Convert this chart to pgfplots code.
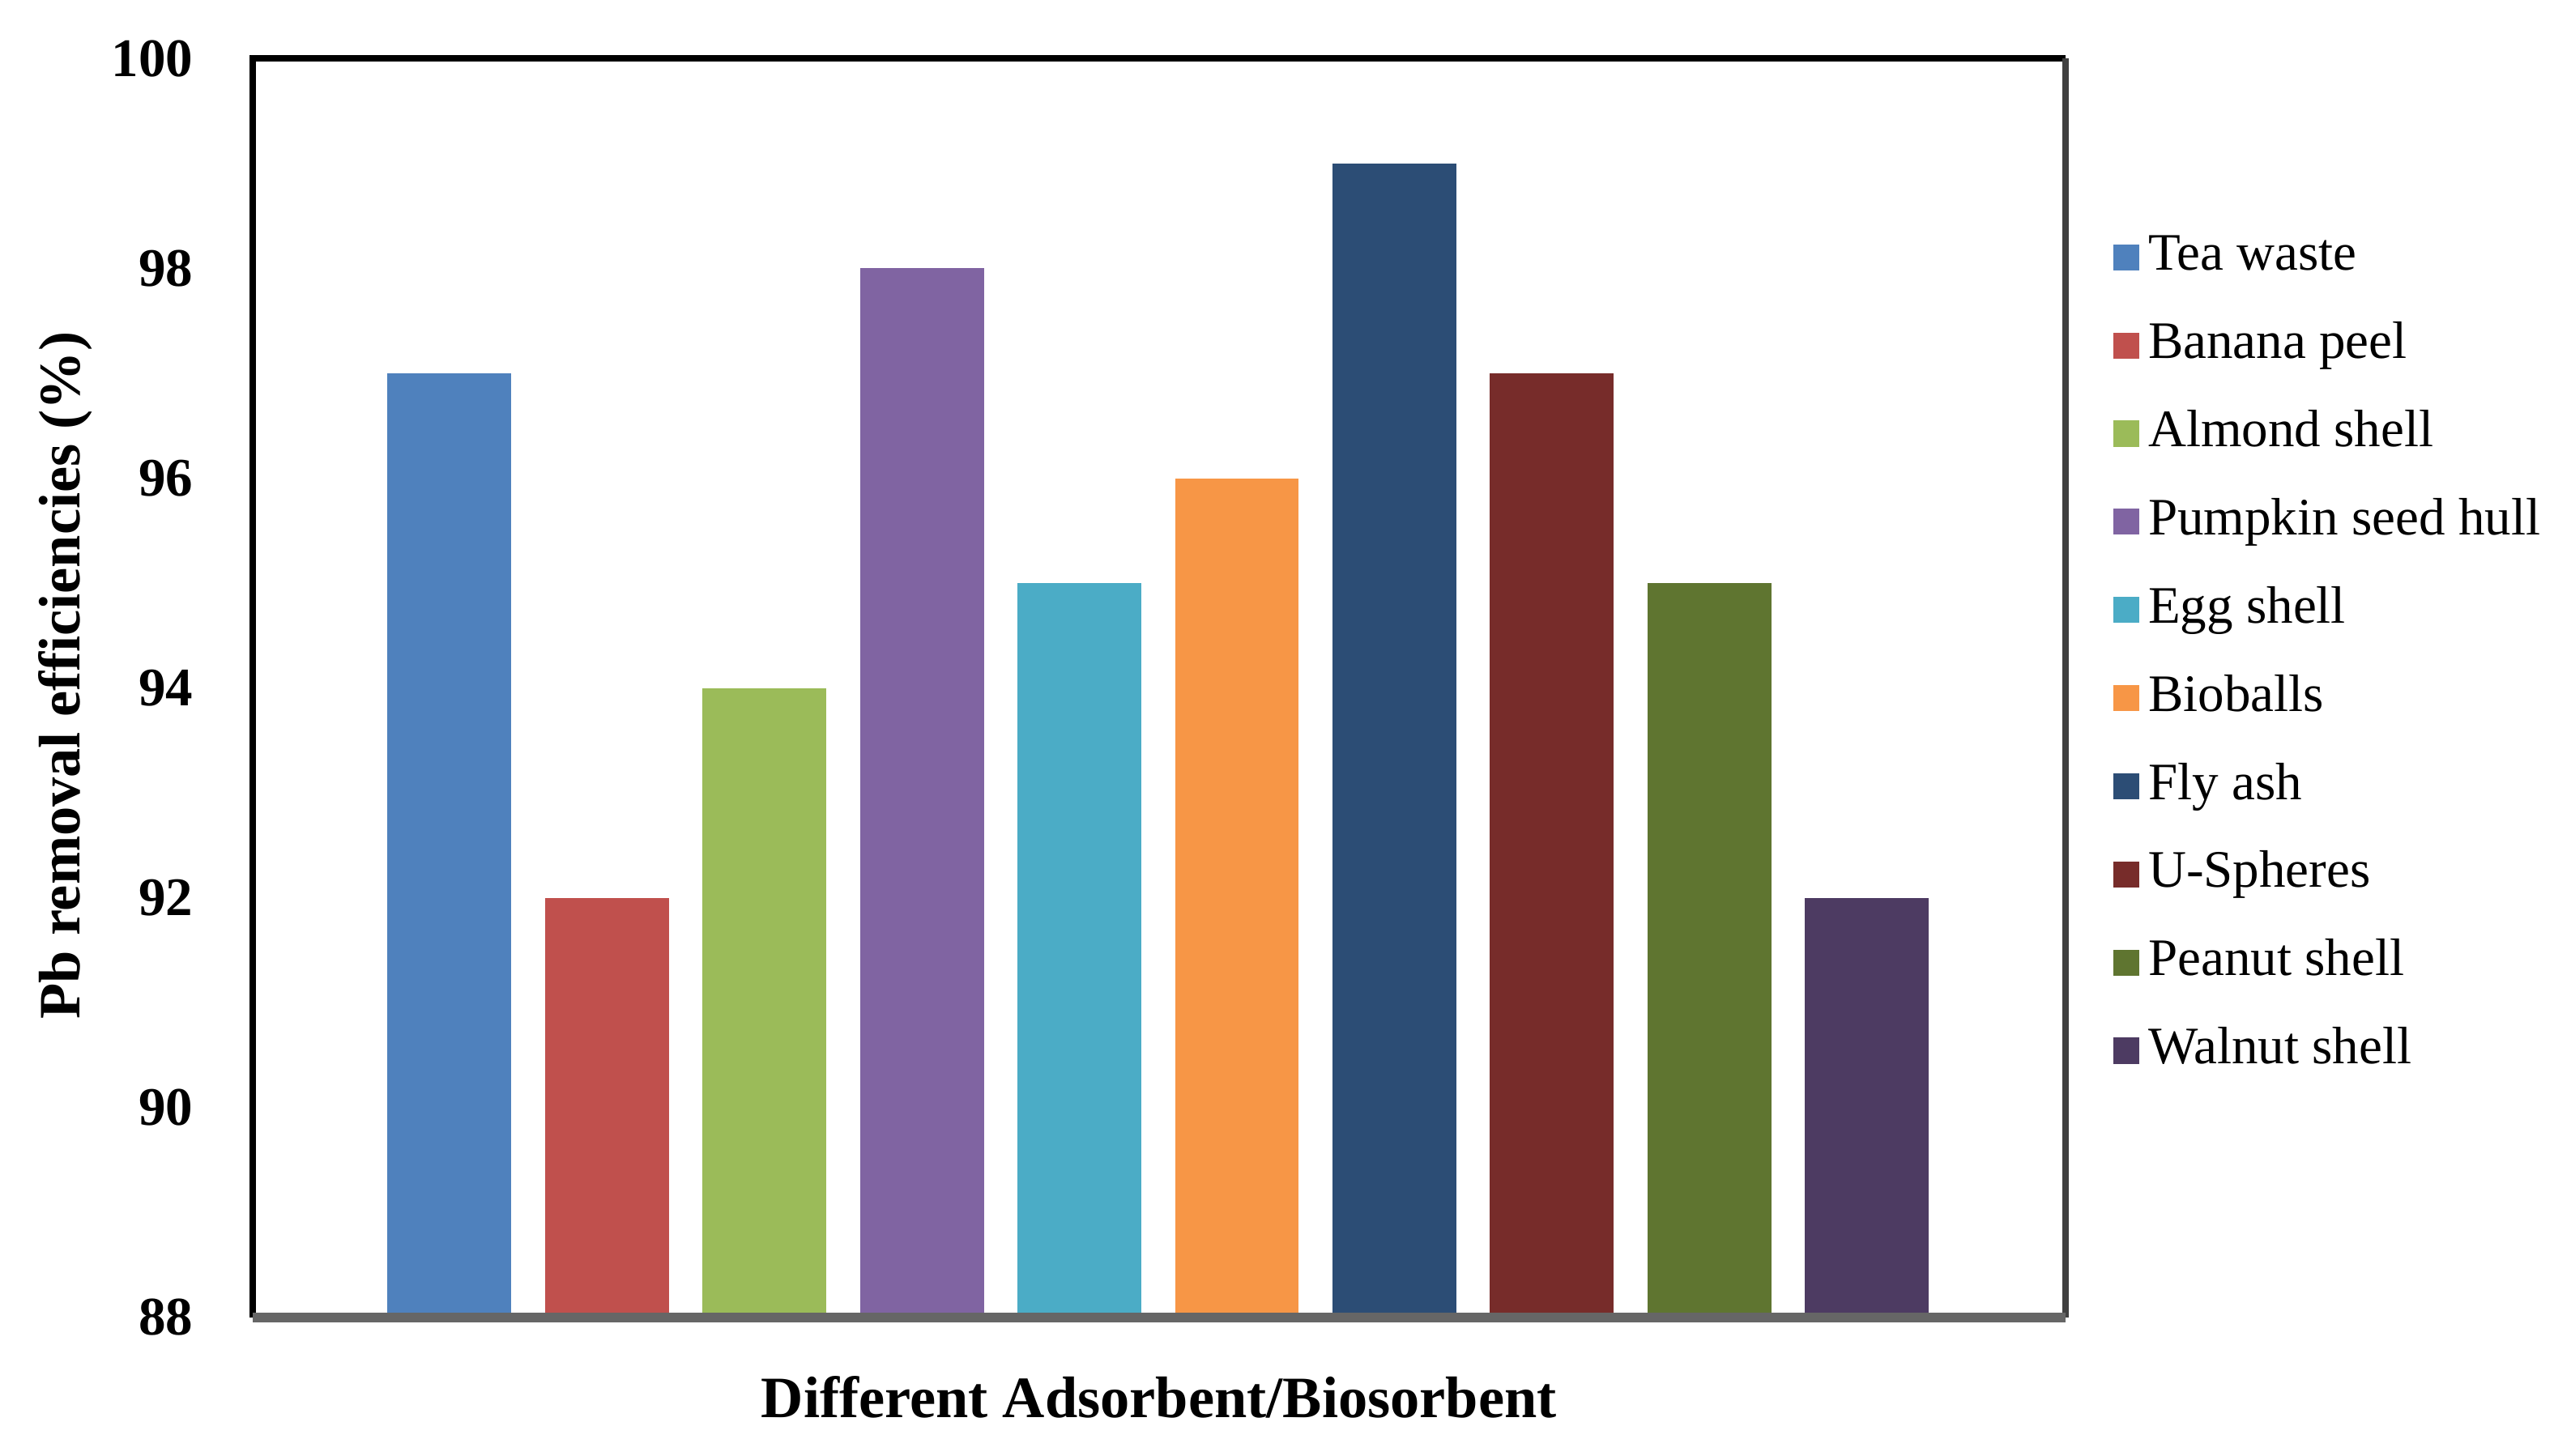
\documentclass[border=0pt]{standalone}
\usepackage{fontspec}
\setmainfont{Liberation Serif}
\usepackage{pgfplots}
\pgfplotsset{compat=1.18}
\definecolor{c1}{HTML}{4F81BD}
\definecolor{c2}{HTML}{C0504D}
\definecolor{c3}{HTML}{9BBB59}
\definecolor{c4}{HTML}{8064A2}
\definecolor{c5}{HTML}{4BACC6}
\definecolor{c6}{HTML}{F79646}
\definecolor{c7}{HTML}{2C4D75}
\definecolor{c8}{HTML}{772C2A}
\definecolor{c9}{HTML}{5F7530}
\definecolor{c10}{HTML}{4D3B62}
\definecolor{axgray}{HTML}{666666}
\begin{document}
\begin{tikzpicture}
\begin{axis}[
  name=ax,
  scale only axis,
  width=333.9pt, height=231.9pt,
  xmin=-1.25, xmax=10.26,
  ymin=88, ymax=100,
  ytick={88,90,...,100},
  xtick=\empty,
  major tick length=0pt,
  axis line style={draw=none},
  ybar, bar width=22.8pt, bar shift=0pt,
  clip=false,
  /pgf/number format/assume math mode=true,
  yticklabel style={font=\bfseries\fontsize{10}{12}\selectfont, xshift=-7.4pt},
  ylabel={Pb removal efficiencies (\%)},
  xlabel={Different Adsorbent/Biosorbent},
  ylabel style={at={(axis description cs:-0.103,0.51)}, anchor=center, rotate=0, font=\bfseries\fontsize{10.8}{13}\selectfont},
  xlabel style={at={(axis description cs:0.5,-0.0634)}, anchor=center, font=\bfseries\fontsize{10.8}{13}\selectfont},
  legend style={at={(axis description cs:1.026,0.878)}, anchor=north west, draw=none, fill=none, inner sep=0pt,
    font=\fontsize{9.7}{11}\selectfont, cells={anchor=west},
    nodes={text height=7pt, text depth=2.2pt, inner ysep=3.52pt, inner xsep=1.6pt}},
  legend image code/.code={\path[#1] (0pt,-2.4pt) rectangle (4.8pt,2.4pt);},
]
\addplot[fill=c1, draw=none] coordinates {(0,97)};
\addplot[fill=c2, draw=none] coordinates {(1,92)};
\addplot[fill=c3, draw=none] coordinates {(2,94)};
\addplot[fill=c4, draw=none] coordinates {(3,98)};
\addplot[fill=c5, draw=none] coordinates {(4,95)};
\addplot[fill=c6, draw=none] coordinates {(5,96)};
\addplot[fill=c7, draw=none] coordinates {(6,99)};
\addplot[fill=c8, draw=none] coordinates {(7,97)};
\addplot[fill=c9, draw=none] coordinates {(8,95)};
\addplot[fill=c10, draw=none] coordinates {(9,92)};
\legend{Tea waste, Banana peel, Almond shell, Pumpkin seed hull, Egg shell, Bioballs, Fly ash, U-Spheres, Peanut shell, Walnut shell}
\draw[black, line width=1.2pt] (rel axis cs:0,0) -- (rel axis cs:0,1) -- (rel axis cs:1,1);
\draw[black!75, line width=1.2pt] (rel axis cs:1,1) -- (rel axis cs:1,0);
\draw[axgray, line width=1.8pt] (rel axis cs:0,0) -- (rel axis cs:1,0);
\end{axis}
\pgfresetboundingbox
\path[use as bounding box] ([xshift=-46.5pt,yshift=-25.5pt]ax.south west) rectangle ([xshift=90pt,yshift=10.8pt]ax.north east);
\end{tikzpicture}
\end{document}
